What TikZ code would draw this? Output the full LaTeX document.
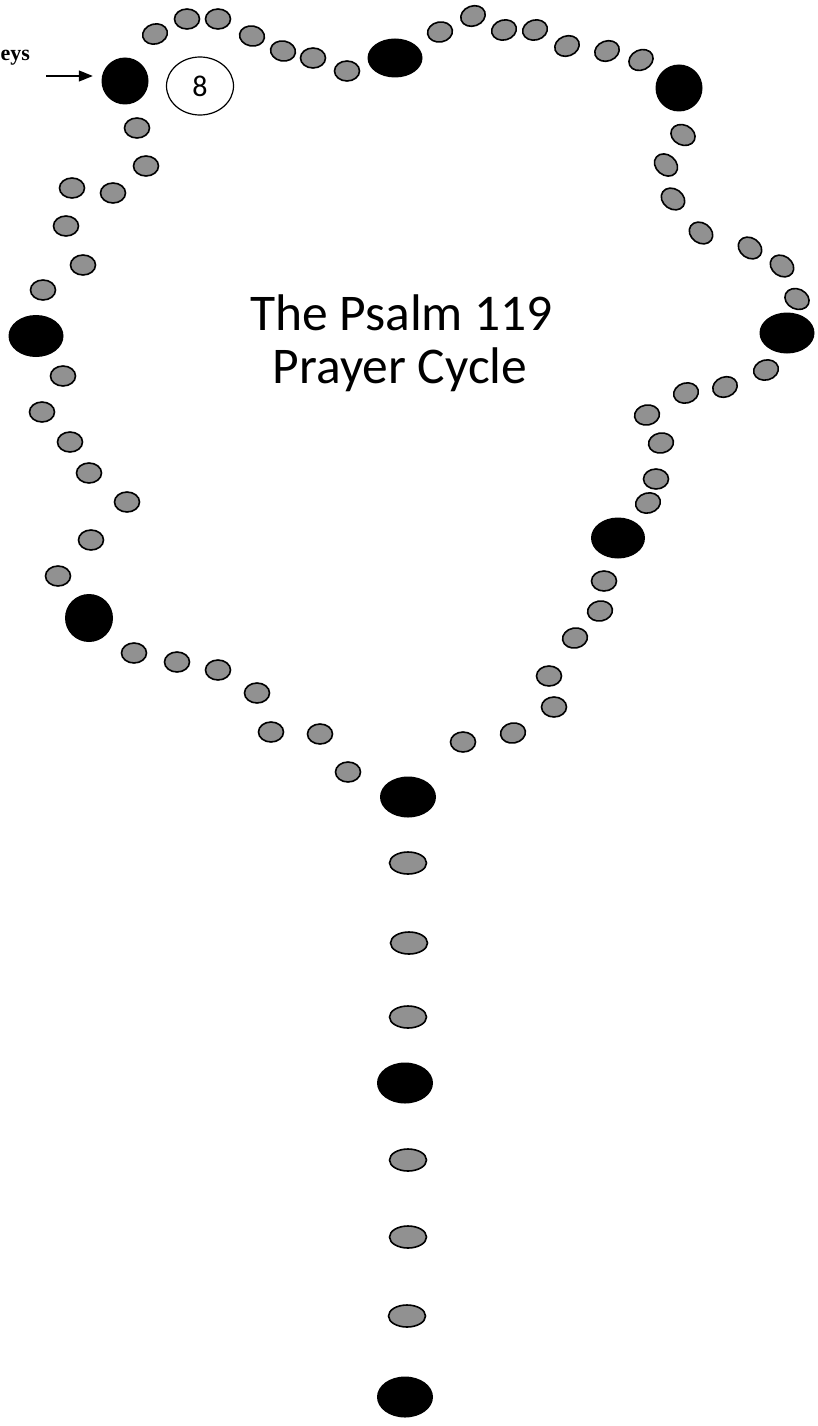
\documentclass[tikz,border=0pt]{standalone}
\usepackage{fontspec}
\newfontfamily\calib{Carlito}
\newfontfamily\timesf{Liberation Serif}
\usetikzlibrary{shapes.geometric,arrows.meta}
\definecolor{beadgray}{RGB}{145,145,145}
\tikzset{
  gbead/.style={ellipse, draw=black, line width=1.6pt, fill=beadgray, inner sep=0pt, minimum width=25pt, minimum height=20pt},
  cbead/.style={ellipse, draw=black, line width=1.6pt, fill=beadgray, inner sep=0pt, minimum width=37pt, minimum height=22pt},
  bbead/.style={ellipse, fill=black, inner sep=0pt, minimum width=56pt, minimum height=41pt},
  rbead/.style={circle, fill=black, inner sep=0pt, minimum size=47pt},
  countbox/.style={ellipse, draw=black, line width=1.2pt, fill=white, inner sep=0pt, minimum width=67pt, minimum height=58pt, font=\calib\fontsize{30}{30}\selectfont},
  titletext/.style={font=\calib\fontsize{51.5}{53}\selectfont, anchor=base},
}
\begin{document}
\begin{tikzpicture}[x=1pt,y=-1pt]
\useasboundingbox (0,0) rectangle (817,1426);
% black marker beads
\node[rbead] (k1) at (125,81) {};
\node[bbead, minimum width=55pt, minimum height=39pt] (k2) at (395,58) {};
\node[rbead] (k3) at (679,88) {};
\node[bbead, minimum width=55pt] (k4) at (787,333) {};
\node[bbead, minimum width=54pt] (k5) at (618,538) {};
\node[bbead] (k6) at (408,797) {};
\node[rbead, minimum size=48pt] (k7) at (89,618) {};
\node[bbead, minimum width=55pt, minimum height=42pt] (k8) at (36,336) {};
\node[bbead] (k9) at (405,1083) {};
\node[bbead] (k10) at (405,1397) {};
% ring beads
\foreach \x/\y/\r [count=\i] in {
  155/34/15, 187/19/0, 218/19/0, 252/36/-10, 283/51/-10, 313/58/0, 347/71/0,
  440/32/10, 473/16/20, 504/30/15, 535/30/15, 567/46/20, 607/51/20, 641/60/25,
  683/135/-25, 666/165/-40, 673/199/-35, 701/233/-35, 750/248/-35, 782/266/-35, 797/299/-25,
  766/370/15, 725/387/20, 686/393/15, 647/415/10, 661/443/10, 656/479/0, 648/503/15,
  604/581/0, 600/611/10, 575/638/10, 549/676/0, 554/707/0, 513/733/10, 463/742/0,
  348/772/0, 320/734/0, 271/732/0, 257/693/0, 218/670/0, 177/662/0, 134/653/0,
  58/576/0, 91/540/0, 127/502/0, 89/473/0, 70/442/0, 42/412/0, 63/376/0,
  43/290/0, 83/265/0, 66/226/0, 72/188/0, 113/193/0, 146/166/0, 137/128/0}
  \node[gbead, rotate=\r] (g\i) at (\x,\y) {};
% pendant chain
\foreach \x/\y [count=\i] in {408/863, 409/943, 408/1017, 408/1160, 408/1237, 407/1316}
  \node[cbead] (c\i) at (\x,\y) {};
% count marker
\node[countbox] (count) at (200,86) {8};
% label and arrow
\node[font=\timesf\bfseries\fontsize{22}{22}\selectfont, anchor=base west, inner sep=0pt] (keys) at (0.5,61) {eys};
\coordinate (arrowstart) at (46,76);
\draw[line width=1.3pt, -{Triangle[length=14pt,width=11pt]}] (arrowstart) -- ([xshift=-8.5pt,yshift=5pt]k1.west);
% title
\node[titletext] (title1) at (401.5,330) {The Psalm 119};
\node[titletext] (title2) at (400,383) {Prayer Cycle};
\end{tikzpicture}
\end{document}
